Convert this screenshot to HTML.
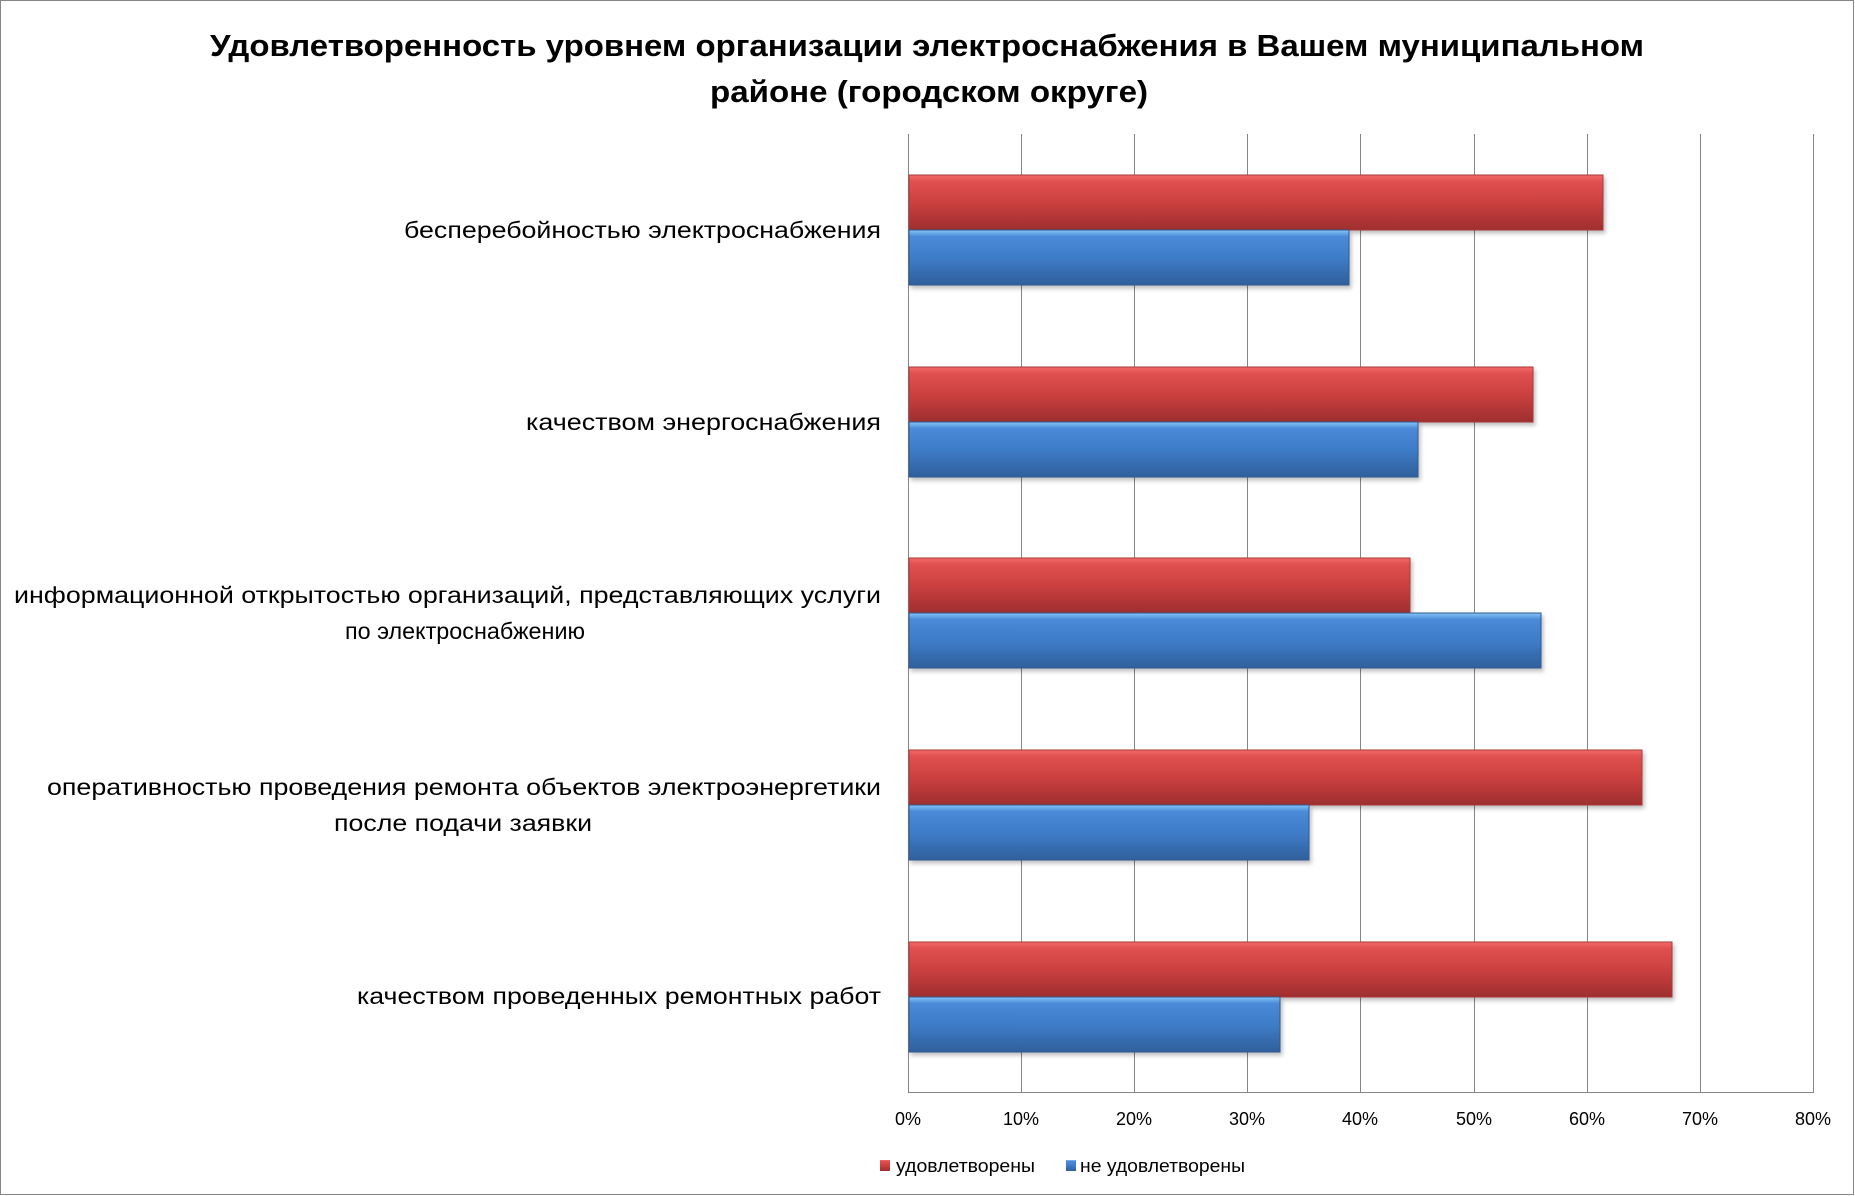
<!DOCTYPE html>
<html><head><meta charset="utf-8"><style>html,body{margin:0;padding:0;background:#fff}svg{display:block}</style></head>
<body>
<svg width="1855" height="1196" xmlns="http://www.w3.org/2000/svg" font-family="'Liberation Sans', sans-serif">
<defs>
<linearGradient id="r" x1="0" y1="0" x2="0" y2="1">
<stop offset="0" stop-color="#f26a6a"/><stop offset="0.12" stop-color="#e05050"/><stop offset="0.5" stop-color="#cc4040"/><stop offset="1" stop-color="#9e2e2e"/></linearGradient>
<linearGradient id="b" x1="0" y1="0" x2="0" y2="1">
<stop offset="0" stop-color="#86c4f8"/><stop offset="0.12" stop-color="#4a8ad8"/><stop offset="0.5" stop-color="#3e7cc8"/><stop offset="1" stop-color="#2f5f9c"/></linearGradient>
<filter id="sh" x="-5%" y="-20%" width="110%" height="150%"><feDropShadow dx="2" dy="3" stdDeviation="2" flood-color="#000" flood-opacity="0.25"/></filter>
</defs>
<rect x="0.5" y="0.5" width="1853" height="1194" fill="#fff" stroke="#868686"/>
<text x="927" y="56" text-anchor="middle" font-size="31" font-weight="bold" textLength="1434" lengthAdjust="spacingAndGlyphs">Удовлетворенность уровнем организации электроснабжения в Вашем муниципальном</text>
<text x="929" y="102" text-anchor="middle" font-size="31" font-weight="bold" textLength="438" lengthAdjust="spacingAndGlyphs">районе (городском округе)</text>
<g stroke="#868686" stroke-width="1">
<line x1="1021.5" y1="134" x2="1021.5" y2="1092"/><line x1="1134.5" y1="134" x2="1134.5" y2="1092"/>
<line x1="1247.5" y1="134" x2="1247.5" y2="1092"/><line x1="1360.5" y1="134" x2="1360.5" y2="1092"/>
<line x1="1474.5" y1="134" x2="1474.5" y2="1092"/><line x1="1587.5" y1="134" x2="1587.5" y2="1092"/>
<line x1="1700.5" y1="134" x2="1700.5" y2="1092"/><line x1="1813.5" y1="134" x2="1813.5" y2="1092"/>
<line x1="908.5" y1="134" x2="908.5" y2="1092"/><line x1="908" y1="1092.5" x2="1814" y2="1092.5"/>
</g>
<g filter="url(#sh)" stroke-width="1">
<rect x="909" y="175" width="694" height="55" fill="url(#r)" stroke="#a83a3a"/>
<rect x="909" y="230" width="440" height="55" fill="url(#b)" stroke="#2e5a90"/>
<rect x="909" y="367" width="624" height="55" fill="url(#r)" stroke="#a83a3a"/>
<rect x="909" y="422" width="509" height="55" fill="url(#b)" stroke="#2e5a90"/>
<rect x="909" y="558" width="501" height="55" fill="url(#r)" stroke="#a83a3a"/>
<rect x="909" y="613" width="632" height="55" fill="url(#b)" stroke="#2e5a90"/>
<rect x="909" y="750" width="733" height="55" fill="url(#r)" stroke="#a83a3a"/>
<rect x="909" y="805" width="400" height="55" fill="url(#b)" stroke="#2e5a90"/>
<rect x="909" y="942" width="763" height="55" fill="url(#r)" stroke="#a83a3a"/>
<rect x="909" y="997" width="371" height="55" fill="url(#b)" stroke="#2e5a90"/>
</g>
<g font-size="23" fill="#000">
<text x="881" y="238" text-anchor="end" textLength="477" lengthAdjust="spacingAndGlyphs">бесперебойностью  электроснабжения</text>
<text x="881" y="430" text-anchor="end" textLength="355" lengthAdjust="spacingAndGlyphs">качеством энергоснабжения</text>
<text x="881" y="603" text-anchor="end" textLength="867" lengthAdjust="spacingAndGlyphs">информационной открытостью организаций, представляющих услуги</text>
<text x="465" y="639" text-anchor="middle" textLength="240" lengthAdjust="spacingAndGlyphs">по электроснабжению</text>
<text x="881" y="795" text-anchor="end" textLength="834" lengthAdjust="spacingAndGlyphs">оперативностью проведения ремонта объектов электроэнергетики</text>
<text x="463" y="831" text-anchor="middle" textLength="258" lengthAdjust="spacingAndGlyphs">после подачи заявки</text>
<text x="881" y="1004" text-anchor="end" textLength="524" lengthAdjust="spacingAndGlyphs">качеством проведенных ремонтных работ</text>
</g>
<g font-size="18" text-anchor="middle" fill="#000">
<text x="908" y="1125">0%</text><text x="1021" y="1125">10%</text><text x="1134" y="1125">20%</text><text x="1247" y="1125">30%</text>
<text x="1360" y="1125">40%</text><text x="1474" y="1125">50%</text><text x="1587" y="1125">60%</text><text x="1700" y="1125">70%</text><text x="1813" y="1125">80%</text>
</g>
<rect x="880" y="1160" width="10" height="11" fill="url(#r)"/>
<text x="896" y="1172" font-size="18" textLength="139" lengthAdjust="spacingAndGlyphs">удовлетворены</text>
<rect x="1066" y="1160" width="10" height="11" fill="url(#b)"/>
<text x="1080" y="1172" font-size="18" textLength="165" lengthAdjust="spacingAndGlyphs">не удовлетворены</text>
</svg>
</body></html>
